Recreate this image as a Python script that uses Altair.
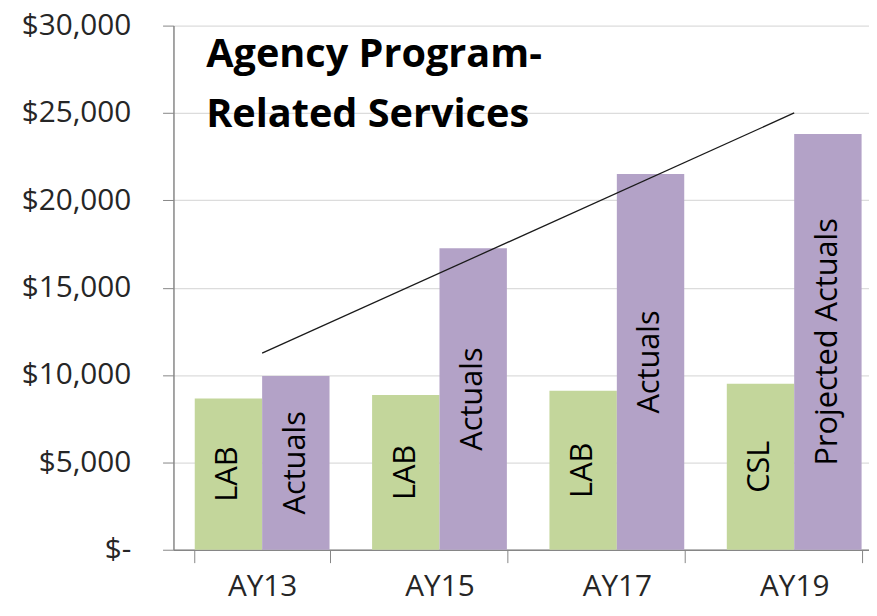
import altair as alt
import pandas as pd

# ---- data ----
years = ["AY13", "AY15", "AY17", "AY19"]
base_values = [8650, 8850, 9100, 9500]
base_labels = ["LAB", "LAB", "LAB", "CSL"]
actual_values = [9950, 17250, 21500, 23800]
actual_labels = ["Actuals", "Actuals", "Actuals", "Projected Actuals"]
trend_years = ["AY13", "AY19"]
trend_values = [11250, 25000]
y_ticks = [0, 5000, 10000, 15000, 20000, 25000, 30000]
title_lines = ["Agency Program-", "Related Services"]

series_order = ["base", "actual"]
colors = ["#C3D69B", "#B3A2C7"]

rows = []
for yr, v, lab in zip(years, base_values, base_labels):
    rows.append({"year": yr, "series": "base", "value": v, "label": lab})
for yr, v, lab in zip(years, actual_values, actual_labels):
    rows.append({"year": yr, "series": "actual", "value": v, "label": lab})
df = pd.DataFrame(rows)
trend_df = pd.DataFrame({"year": trend_years, "value": trend_values})

FONT = "Open Sans"

x_enc = alt.X(
    "year:N",
    sort=years,
    scale=alt.Scale(range=[0, 716], paddingInner=0.24, paddingOuter=0.12),
    axis=alt.Axis(
        title=None,
        labelAngle=0,
        labelFont=FONT,
        labelFontSize=30,
        labelColor="#262626",
        labelPadding=9,
        tickBand="extent",
        tickSize=13,
        tickColor="#868686",
        domainColor="#868686",
        domainWidth=1.5,
        grid=False,
    ),
)
xoff = alt.XOffset("series:N", sort=series_order,
                   scale=alt.Scale(paddingInner=0, paddingOuter=0))
y_scale = alt.Scale(domain=[0, 30000], nice=False)

bars = alt.Chart(df).mark_bar().encode(
    x=x_enc,
    xOffset=xoff,
    y=alt.Y(
        "value:Q",
        scale=y_scale,
        axis=alt.Axis(
            title=None,
            values=y_ticks,
            labelExpr="datum.value == 0 ? '$-' : '$' + format(datum.value, ',')",
            labelFont=FONT,
            labelFontSize=30,
            labelColor="#262626",
            labelPadding=32,
            tickSize=11,
            tickColor="#868686",
            domainColor="#868686",
            domainWidth=1.5,
            grid=True,
            gridColor="#DCDCDC",
            gridWidth=1.3,
        ),
    ),
    color=alt.Color("series:N", sort=series_order,
                    scale=alt.Scale(domain=series_order, range=colors),
                    legend=None),
)

trend = alt.Chart(trend_df).mark_line(color="#1a1a1a", strokeWidth=1.3).encode(
    x=alt.X("year:N", sort=years),
    y=alt.Y("value:Q", scale=y_scale),
)

labels = alt.Chart(df).transform_calculate(
    mid="datum.value / 2"
).mark_text(
    angle=270, align="center", baseline="middle",
    font=FONT, fontSize=31, color="black",
).encode(
    x=alt.X("year:N", sort=years),
    xOffset=xoff,
    y=alt.Y("mid:Q", scale=y_scale),
    text="label:N",
)

chart = alt.layer(bars, trend, labels).properties(
    width=702,
    height=529,
    autosize=alt.AutoSizeParams(type="none"),
    padding={"left": 167, "top": 15, "right": 0, "bottom": 52},
    title=alt.TitleParams(
        text=title_lines,
        anchor="start",
        orient="top",
        frame="group",
        dx=33,
        dy=129,
        baseline="top",
        font=FONT,
        fontSize=40,
        fontWeight="bold",
        color="black",
        lineHeight=60,
    ),
).configure_view(stroke=None)

chart.save("out.html", embed_options={"renderer": "svg", "actions": False})
